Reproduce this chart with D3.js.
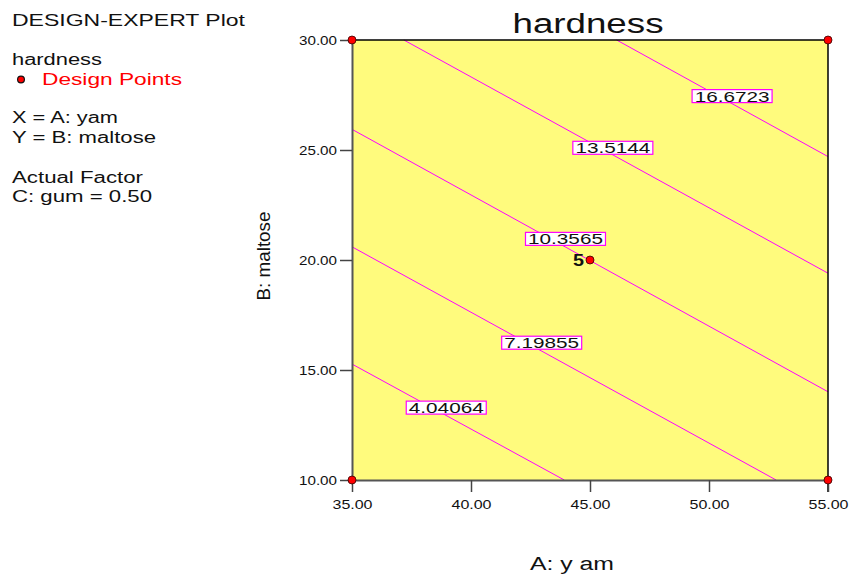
<!DOCTYPE html>
<html lang="en">
<head>
    <meta charset="UTF-8" />
    <title>hardness contour plot</title>
    <script src="https://d3js.org/d3.v7.min.js"></script>
    <style>
        * { margin: 0; padding: 0; }
        body { background: #fff; font-family: Arial, "Liberation Sans", sans-serif; }
        svg { display: block; }
    </style>
</head>
<body>
<svg width="853" height="576"></svg>
<script>
    // Data
    var xTicks = [35, 40, 45, 50, 55];
    var yTicks = [10, 15, 20, 25, 30];
    var contourLevels = ["4.04064", "7.19855", "10.3565", "13.5144", "16.6723"];
    // each contour is a straight line: [A, B] start and end in data units
    var contourStarts = [[35, 15.27], [35, 20.6], [35, 25.94], [37.18, 30], [46.12, 30]];
    var contourEnds = [[43.92, 10], [52.82, 10], [55, 14.01], [55, 19.4], [55, 24.7]];
    // where each level label sits on its line
    var labelSpots = [[38.96, 13.29], [42.97, 16.24], [43.97, 20.96], [45.96, 25.1], [50.97, 27.45]];
    var designPoints = [[35, 10], [35, 30], [55, 10], [55, 30], [45, 20]];
    var centerRuns = 5;
    var legendLines = ["hardness", "Design Points", "X = A: yam", "Y = B: maltose", "Actual Factor", "C: gum = 0.50"];

    var svg = d3.select("svg");
    var plotLeft = 352, plotRight = 828, plotTop = 40, plotBottom = 480;

    var xScale = d3.scaleLinear().domain([35, 55]).range([plotLeft, plotRight]);
    var yScale = d3.scaleLinear().domain([10, 30]).range([plotBottom, plotTop]);

    // stretched text helper (the original's font is drawn wide)
    function label(x, y, str, size, width, opts) {
        opts = opts || {};
        var t = svg.append("text")
            .attr("x", x)
            .attr("y", y)
            .attr("font-size", size + "px")
            .attr("fill", opts.fill || "#111")
            .attr("text-anchor", opts.anchor || "start")
            .text(str);
        if (width) t.attr("textLength", width).attr("lengthAdjust", "spacingAndGlyphs");
        if (opts.bold) t.attr("font-weight", "bold");
        return t;
    }

    // plot background
    svg.append("rect")
        .attr("x", plotLeft).attr("y", plotTop)
        .attr("width", plotRight - plotLeft).attr("height", plotBottom - plotTop)
        .attr("fill", "#fffb7d");

    // contour lines
    svg.selectAll(".contour")
        .data(contourLevels)
        .enter()
        .append("line")
        .attr("class", "contour")
        .attr("x1", function(d, i) { return xScale(contourStarts[i][0]); })
        .attr("y1", function(d, i) { return yScale(contourStarts[i][1]); })
        .attr("x2", function(d, i) { return xScale(contourEnds[i][0]); })
        .attr("y2", function(d, i) { return yScale(contourEnds[i][1]); })
        .attr("stroke", "#ff00ff")
        .attr("stroke-width", 1);

    // contour labels in boxes
    var boxes = svg.selectAll(".lvl")
        .data(contourLevels)
        .enter()
        .append("g")
        .attr("class", "lvl")
        .attr("transform", function(d, i) {
            return "translate(" + xScale(labelSpots[i][0]) + "," + yScale(labelSpots[i][1]) + ")";
        });
    boxes.append("rect")
        .attr("x", -40).attr("y", -6.5)
        .attr("width", 80).attr("height", 13)
        .attr("fill", "#fff")
        .attr("stroke", "#ff00ff")
        .attr("stroke-width", 1.2);
    boxes.append("text")
        .attr("x", 0).attr("y", 5.5)
        .attr("text-anchor", "middle")
        .attr("font-size", "15px")
        .attr("fill", "#111")
        .attr("textLength", function(d) { return d.length * 10.7; })
        .attr("lengthAdjust", "spacingAndGlyphs")
        .text(function(d) { return d; });

    // frame: top and right in black
    svg.append("path")
        .attr("d", "M" + plotLeft + "," + plotTop + "H" + plotRight + "V" + (plotBottom + 12))
        .attr("fill", "none")
        .attr("stroke", "#000")
        .attr("stroke-width", 1.5);

    // axes
    var xAxis = d3.axisBottom(xScale)
        .tickValues(xTicks)
        .tickSizeInner(12).tickSizeOuter(0)
        .tickFormat(d3.format(".2f"));
    var gx = svg.append("g")
        .attr("transform", "translate(0," + plotBottom + ")")
        .call(xAxis);
    gx.select(".domain").attr("stroke", "#555").attr("stroke-width", 2);
    gx.selectAll(".tick line").attr("stroke", "#444").attr("stroke-width", 1.5);
    gx.selectAll(".tick text")
        .attr("y", 29).attr("dy", null)
        .attr("font-family", "Arial, 'Liberation Sans', sans-serif")
        .attr("font-size", "13.5px")
        .attr("fill", "#111")
        .attr("textLength", 40).attr("lengthAdjust", "spacingAndGlyphs");

    var yAxis = d3.axisLeft(yScale)
        .tickValues(yTicks)
        .tickSizeInner(12).tickSizeOuter(0)
        .tickFormat(d3.format(".2f"));
    var gy = svg.append("g")
        .attr("transform", "translate(" + plotLeft + ",0)")
        .call(yAxis);
    gy.select(".domain").attr("stroke", "#555").attr("stroke-width", 2);
    gy.selectAll(".tick line").attr("stroke", "#444").attr("stroke-width", 1.5);
    gy.selectAll(".tick text")
        .attr("x", -15).attr("dy", "0.36em")
        .attr("font-family", "Arial, 'Liberation Sans', sans-serif")
        .attr("font-size", "13.5px")
        .attr("fill", "#111")
        .attr("textLength", 38).attr("lengthAdjust", "spacingAndGlyphs");

    // design points
    svg.selectAll(".pt")
        .data(designPoints)
        .enter()
        .append("circle")
        .attr("class", "pt")
        .attr("cx", function(d) { return xScale(d[0]); })
        .attr("cy", function(d) { return yScale(d[1]); })
        .attr("r", 4)
        .attr("fill", "#ff0000")
        .attr("stroke", "#300")
        .attr("stroke-width", 0.8);

    label(xScale(45) - 6, yScale(20) + 5.5, String(centerRuns), 16, 11, { bold: true, anchor: "end" });

    // title and axis titles
    label(588, 33, "hardness", 27, 151, { anchor: "middle" });
    label(572, 570, "A:  y am", 18, 84, { anchor: "middle" });
    label(0, 0, "B: maltose", 19, 89, { anchor: "middle" })
        .attr("transform", "translate(270,256) rotate(-90)");

    // legend block on the left
    label(12, 26, "DESIGN-EXPERT Plot", 17, 233);
    label(12, 65, legendLines[0], 16, 90);
    svg.append("circle")
        .attr("cx", 21).attr("cy", 79.5).attr("r", 3.4)
        .attr("fill", "#ff0000").attr("stroke", "#111").attr("stroke-width", 1.2);
    label(42, 85, legendLines[1], 16, 140, { fill: "#ff0000" });
    label(12, 123, legendLines[2], 16, 106);
    label(12, 143, legendLines[3], 16, 144);
    label(12, 183, legendLines[4], 16, 131);
    label(12, 202, legendLines[5], 16, 140);
</script>
</body>
</html>
